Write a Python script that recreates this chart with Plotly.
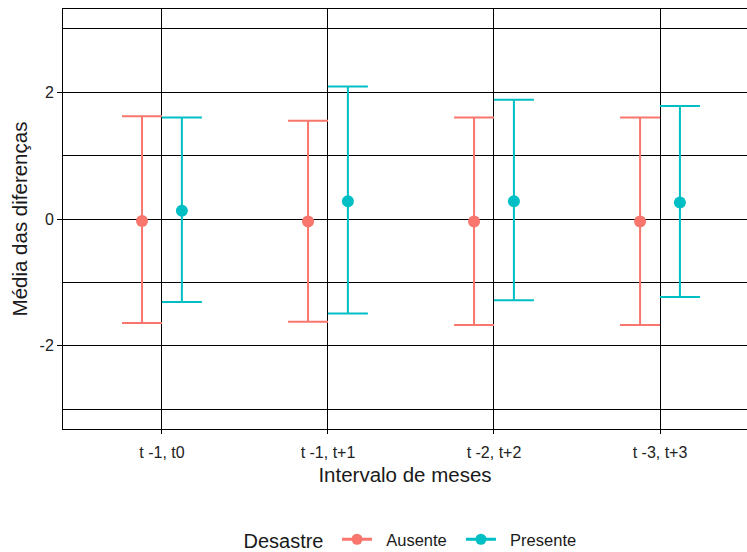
import plotly.graph_objects as go

categories = ["t -1, t0", "t -1, t+1", "t -2, t+2", "t -3, t+3"]
groups = ["Ausente", "Presente"]
colors = {"Ausente": "#F8766D", "Presente": "#00BFC4"}

ausente_mean = [-0.03, -0.04, -0.04, -0.04]
ausente_upper = [1.62, 1.55, 1.60, 1.60]
ausente_lower = [-1.64, -1.62, -1.67, -1.67]

presente_mean = [0.13, 0.28, 0.28, 0.26]
presente_upper = [1.60, 2.09, 1.88, 1.78]
presente_lower = [-1.31, -1.49, -1.28, -1.23]

y_tickvals = [-2, 0, 2]
y_ticktext = ["-2", "0", "2"]

data = {
    "Ausente": (ausente_mean, ausente_upper, ausente_lower),
    "Presente": (presente_mean, presente_upper, presente_lower),
}
dodge = {"Ausente": -0.12, "Presente": 0.12}

FONT = "Liberation Sans, Arial, sans-serif"
TXT = "#1a1a1a"
NB = "\u00a0"
fig = go.Figure()
for g in groups:
    m, u, l = data[g]
    xs = [i + dodge[g] for i in range(len(categories))]
    fig.add_trace(go.Scatter(
        x=xs, y=m, mode="markers", name=g, showlegend=False,
        marker=dict(color=colors[g], size=12),
        error_y=dict(type="data", symmetric=False,
                     array=[ui - mi for ui, mi in zip(u, m)],
                     arrayminus=[mi - li for mi, li in zip(m, l)],
                     color=colors[g], thickness=2, width=20),
    ))
    fig.add_trace(go.Scatter(
        x=[None], y=[None], mode="lines+markers",
        name=NB * 2 + g + NB * 2, showlegend=True,
        marker=dict(color=colors[g], size=11),
        line=dict(color=colors[g], width=3),
    ))

fig.update_layout(
    width=747, height=552,
    margin=dict(l=63, r=0, t=9, b=123),
    plot_bgcolor="white", paper_bgcolor="white",
    font=dict(family=FONT, color=TXT),
    showlegend=True,
    legend=dict(orientation="h", x=0.516, xanchor="center", xref="paper",
                y=0.0217, yanchor="middle", yref="container",
                title=dict(text="Desastre ", font=dict(size=20, color=TXT)),
                font=dict(size=16.5, color=TXT), itemwidth=30),
)
fig.update_xaxes(
    range=[-0.596, 3.524],
    tickmode="array", tickvals=list(range(len(categories))), ticktext=categories,
    tickfont=dict(size=16, color="#222"),
    ticks="outside", ticklen=4, tickcolor="black", tickwidth=1,
    ticklabelstandoff=5,
    showgrid=True, gridcolor="black", gridwidth=1,
    showline=True, linecolor="black", linewidth=1, mirror=True,
    zeroline=False,
    title=dict(text="Intervalo de meses", font=dict(size=20.5, color=TXT), standoff=7),
)
fig.update_yaxes(
    range=[-3.31, 3.31],
    tickmode="array", tickvals=y_tickvals, ticktext=y_ticktext,
    tickfont=dict(size=16, color="#222"),
    ticks="outside", ticklen=5, tickcolor="black", tickwidth=1,
    showgrid=True, gridcolor="black", gridwidth=1,
    minor=dict(tickmode="linear", tick0=1, dtick=2, showgrid=True,
               gridcolor="black", gridwidth=1, ticks=""),
    showline=True, linecolor="black", linewidth=1, mirror=False,
    zeroline=False,
    title=dict(text="Média das diferenças", font=dict(size=20.5, color=TXT), standoff=6),
)
fig.write_html("out.html")
